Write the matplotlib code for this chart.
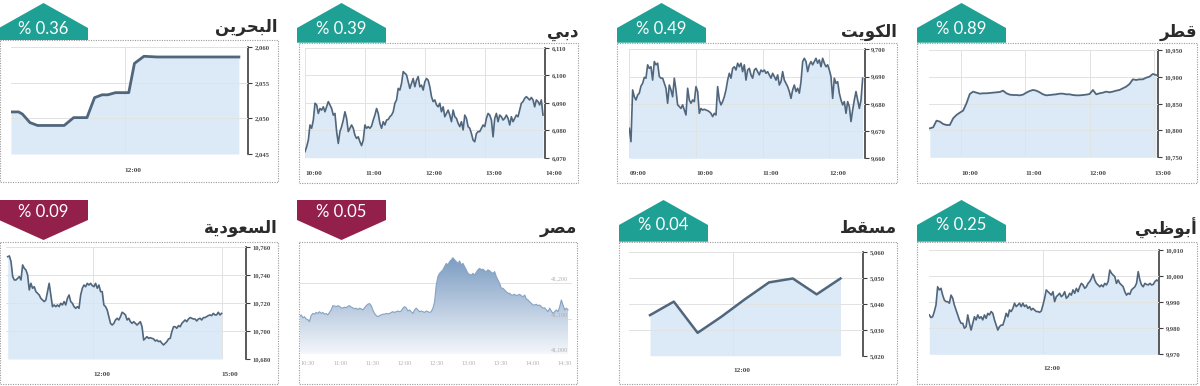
import numpy as np
import matplotlib
matplotlib.use('Agg')
import matplotlib.pyplot as plt
from matplotlib.patches import Polygon, Rectangle
from matplotlib.colors import LinearSegmentedColormap

W, H = 1200, 386

# ---------------- data ----------------
titles = ['البحرين', 'دبي', 'الكويت', 'قطر', 'السعودية', 'مصر', 'مسقط', 'أبوظبي']
changes = ['% 0.36', '% 0.39', '% 0.49', '% 0.89', '% 0.09', '% 0.05', '% 0.04', '% 0.25']
rising = [True, True, True, True, False, False, True, True]

bahrain_times = ['11:00', '11:04', '11:06', '11:10', '11:14', '11:28', '11:33', '11:40', '11:44',
                 '11:48', '11:51', '11:55', '12:02', '12:05', '12:10', '12:17', '13:00']
bahrain_values = [2050.9, 2050.9, 2050.6, 2049.4, 2049.0, 2049.0, 2050.1, 2050.1, 2052.9,
                  2053.3, 2053.3, 2053.6, 2053.6, 2057.7, 2058.7, 2058.6, 2058.6]
bahrain_yticks = [2045, 2050, 2055, 2060]
bahrain_xticks = ['12:00']

dubai_start, dubai_end = '10:00', '13:58'
dubai_values = [
    6072.2, 6074.0, 6076.4, 6081.9, 6080.7, 6083.7, 6089.8, 6089.2, 6086.1, 6087.9,
    6087.3, 6088.5, 6086.7, 6088.5, 6090.4, 6089.2, 6087.9, 6085.5, 6086.1, 6079.5,
    6075.2, 6079.5, 6081.3, 6083.7, 6086.7, 6084.3, 6079.5, 6080.7, 6081.9, 6080.7,
    6078.2, 6077.0, 6077.6, 6075.8, 6074.4, 6076.4, 6081.9, 6080.7, 6081.3, 6080.7,
    6081.5, 6083.7, 6085.5, 6087.9, 6086.1, 6082.5, 6080.7, 6083.1, 6081.9, 6083.7,
    6083.9, 6084.9, 6085.5, 6086.7, 6089.8, 6091.0, 6095.2, 6094.6, 6097.0, 6101.3,
    6100.7, 6100.1, 6097.6, 6095.2, 6097.0, 6098.8, 6095.8, 6098.2, 6099.5, 6095.8,
    6096.4, 6094.6, 6097.6, 6098.8, 6098.2, 6095.8, 6092.2, 6090.4, 6091.0, 6089.2,
    6088.5, 6089.8, 6086.7, 6088.5, 6084.9, 6086.1, 6087.3, 6085.5, 6083.1, 6087.3,
    6084.9, 6084.3, 6082.5, 6081.3, 6083.1, 6080.1, 6085.5, 6084.3, 6081.3, 6080.7,
    6078.8, 6076.4, 6075.8, 6078.8, 6079.5, 6079.5, 6080.7, 6081.9, 6081.3, 6084.3,
    6086.1, 6085.5, 6083.7, 6077.6, 6084.3, 6086.1, 6083.1, 6085.5, 6084.9, 6083.7,
    6084.3, 6085.5, 6084.3, 6081.9, 6084.9, 6083.1, 6084.3, 6085.5, 6084.9, 6087.3,
    6089.8, 6090.4, 6091.6, 6092.2, 6091.6, 6091.0, 6091.9, 6091.0, 6088.5, 6091.0,
    6090.4, 6089.2, 6091.0, 6085.5]
dubai_yticks = [6070, 6080, 6090, 6100, 6110]
dubai_xticks = ['10:00', '11:00', '12:00', '13:00', '14:00']

kuwait_start, kuwait_end = '09:00', '12:30'
kuwait_values = [
    9671.0, 9666.1, 9685.1, 9682.6, 9681.4, 9683.2, 9683.9, 9686.5, 9687.5, 9689.7,
    9689.4, 9694.3, 9693.0, 9693.6, 9688.7, 9695.5, 9694.3, 9694.9, 9690.0, 9689.4,
    9689.4, 9687.5, 9685.7, 9680.2, 9686.9, 9685.1, 9682.6, 9689.4, 9685.1, 9679.6,
    9679.0, 9678.3, 9679.6, 9677.7, 9675.9, 9685.7, 9681.4, 9680.2, 9681.4, 9680.8,
    9686.3, 9684.5, 9676.5, 9678.3, 9677.7, 9678.0, 9677.7, 9677.5, 9677.1, 9676.5,
    9675.3, 9676.5, 9675.9, 9686.3, 9681.4, 9679.6, 9680.8, 9682.6, 9685.1, 9688.7,
    9691.2, 9689.4, 9693.0, 9693.6, 9692.4, 9694.9, 9693.6, 9694.9, 9691.8, 9694.3,
    9688.7, 9692.4, 9693.0, 9690.6, 9689.4, 9692.4, 9693.0, 9691.8, 9690.6, 9692.4,
    9691.8, 9692.4, 9691.2, 9691.8, 9690.6, 9689.4, 9691.2, 9690.0, 9688.7, 9690.6,
    9686.9, 9688.1, 9691.8, 9688.7, 9687.5, 9686.3, 9684.5, 9682.0, 9685.1, 9686.9,
    9684.5, 9685.7, 9683.9, 9688.1, 9695.5, 9696.7, 9695.5, 9691.8, 9694.3, 9695.5,
    9694.3, 9695.5, 9696.7, 9694.9, 9696.1, 9693.6, 9696.7, 9694.9, 9693.6, 9694.3,
    9692.4, 9690.0, 9682.0, 9689.4, 9687.5, 9688.1, 9683.9, 9681.4, 9679.6, 9680.8,
    9676.5, 9680.8, 9679.0, 9673.5, 9677.7, 9681.4, 9684.5, 9681.4, 9678.3, 9681.4,
    9689.4]
kuwait_yticks = [9660, 9670, 9680, 9690, 9700]
kuwait_xticks = ['09:00', '10:00', '11:00', '12:00']

qatar_start, qatar_end = '09:31', '13:02'
qatar_values = [
    10804.0, 10805.9, 10818.3, 10816.5, 10812.1, 10810.2, 10810.2, 10822.7, 10828.9, 10833.2,
    10837.0, 10850.6, 10868.0, 10872.4, 10870.5, 10868.6, 10869.3, 10869.3, 10869.9, 10870.5,
    10871.1, 10871.7, 10874.2, 10869.3, 10866.8, 10866.1, 10866.1, 10865.5, 10866.8, 10870.5,
    10873.6, 10875.5, 10874.2, 10871.1, 10867.4, 10865.5, 10866.1, 10866.8, 10867.4, 10868.6,
    10868.6, 10867.4, 10867.4, 10866.1, 10865.5, 10865.5, 10866.1, 10866.8, 10868.0, 10875.5,
    10867.4, 10869.3, 10870.5, 10872.4, 10871.1, 10872.4, 10874.2, 10875.5, 10878.6, 10881.7,
    10886.6, 10895.3, 10894.1, 10895.3, 10895.3, 10898.4, 10900.3, 10905.3, 10903.4]
qatar_yticks = [10750, 10800, 10850, 10900, 10950]
qatar_xticks = ['10:00', '11:00', '12:00', '13:00']

saudi_start, saudi_end = '10:00', '15:00'
saudi_values = [
    10752.9, 10753.4, 10749.4, 10738.7, 10736.3, 10736.3, 10737.5, 10738.7, 10736.3, 10747.0,
    10744.6, 10743.4, 10739.9, 10729.2, 10733.9, 10730.4, 10731.5, 10728.0, 10726.8, 10725.6,
    10723.2, 10722.0, 10720.9, 10722.0, 10728.0, 10733.9, 10725.6, 10717.3, 10718.5, 10717.3,
    10718.5, 10717.3, 10719.7, 10718.5, 10720.9, 10718.5, 10723.2, 10725.6, 10720.9, 10719.7,
    10717.3, 10716.1, 10717.3, 10716.1, 10725.6, 10730.4, 10732.7, 10731.5, 10733.9, 10732.7,
    10733.9, 10732.3, 10731.5, 10733.9, 10730.4, 10732.7, 10728.0, 10728.0, 10718.5, 10717.3,
    10714.9, 10710.2, 10705.4, 10704.2, 10705.4, 10707.8, 10709.0, 10707.8, 10710.2, 10713.3,
    10712.5, 10711.4, 10707.8, 10709.0, 10706.6, 10705.4, 10706.6, 10705.4, 10704.2, 10705.4,
    10706.6, 10703.0, 10693.5, 10694.7, 10695.9, 10694.7, 10695.2, 10694.7, 10694.3, 10692.8,
    10693.5, 10692.4, 10692.8, 10691.2, 10690.0, 10691.2, 10692.4, 10694.3, 10694.7, 10699.5,
    10703.0, 10703.0, 10701.9, 10703.8, 10703.0, 10705.4, 10706.6, 10707.8, 10706.6, 10708.5,
    10709.5, 10709.0, 10708.5, 10708.5, 10707.1, 10708.5, 10709.0, 10707.8, 10709.5, 10709.5,
    10710.2, 10710.9, 10711.4, 10710.9, 10712.5, 10711.4, 10711.4, 10713.3, 10711.4, 10712.5]
saudi_yticks = [10680, 10700, 10720, 10740, 10760]
saudi_xticks = ['12:00', '15:00']

egypt_start, egypt_end = '10:22', '14:33'
egypt_values = [
    41106, 41111, 41103, 41106, 41100, 41097, 41092, 41109, 41115, 41113,
    41118, 41115, 41120, 41115, 41118, 41113, 41115, 41111, 41118, 41125,
    41137, 41136, 41134, 41137, 41135, 41131, 41130, 41133, 41131, 41135,
    41137, 41133, 41131, 41128, 41130, 41126, 41130, 41128, 41125, 41131,
    41137, 41141, 41143, 41137, 41125, 41115, 41109, 41106, 41109, 41111,
    41113, 41113, 41115, 41114, 41115, 41118, 41120, 41118, 41120, 41122,
    41120, 41122, 41130, 41134, 41131, 41122, 41125, 41120, 41115, 41125,
    41130, 41125, 41120, 41122, 41120, 41118, 41122, 41120, 41118, 41120,
    41130, 41148, 41195, 41219, 41228, 41233, 41238, 41247, 41256, 41252,
    41261, 41266, 41272, 41266, 41261, 41256, 41263, 41252, 41256, 41247,
    41238, 41228, 41225, 41223, 41228, 41223, 41231, 41238, 41242, 41238,
    41240, 41235, 41233, 41238, 41235, 41231, 41228, 41233, 41219, 41209,
    41200, 41186, 41186, 41181, 41176, 41172, 41172, 41167, 41167, 41169,
    41165, 41167, 41169, 41165, 41162, 41167, 41156, 41153, 41148, 41144,
    41139, 41139, 41141, 41137, 41139, 41134, 41130, 41131, 41125, 41120,
    41130, 41122, 41115, 41120, 41125, 41120, 41134, 41153, 41139, 41125,
    41130, 41125]
egypt_yticks = [41000, 41100, 41200]
egypt_top = 41300
egypt_xticks = ['10:30', '11:00', '11:30', '12:00', '12:30', '13:00', '13:30', '14:00', '14:30']

muscat_times = ['10:15', '10:45', '11:15', '11:45', '12:15', '12:45', '13:15', '13:45', '14:15']
muscat_values = [5035.6, 5040.8, 5028.8, 5035.0, 5041.8, 5048.2, 5049.7, 5043.6, 5049.7]
muscat_yticks = [5020, 5030, 5040, 5050, 5060]
muscat_xticks = ['12:00']

abudhabi_start, abudhabi_end = '10:00', '14:01'
abudhabi_values = [
    9985.1, 9984.1, 9984.4, 9986.4, 9988.9, 9995.9, 9994.7, 9995.3, 9992.7, 9990.8,
    9990.2, 9990.2, 9989.6, 9992.7, 9991.5, 9988.9, 9987.0, 9985.1, 9983.2, 9981.9,
    9981.9, 9980.0, 9980.6, 9985.1, 9981.9, 9979.3, 9981.9, 9984.4, 9983.2, 9985.1,
    9983.8, 9984.4, 9983.2, 9985.1, 9983.8, 9985.7, 9985.1, 9986.4, 9985.7, 9983.2,
    9981.2, 9979.3, 9980.6, 9981.2, 9981.2, 9983.2, 9985.7, 9984.4, 9987.0, 9986.4,
    9987.6, 9989.6, 9988.3, 9988.9, 9989.6, 9988.3, 9989.6, 9988.3, 9988.9, 9987.6,
    9988.3, 9987.0, 9987.6, 9987.0, 9986.4, 9986.4, 9986.1, 9986.6, 9988.9, 9991.5,
    9994.7, 9994.0, 9993.4, 9992.7, 9994.0, 9990.2, 9992.1, 9992.7, 9993.4, 9992.1,
    9992.7, 9994.0, 9991.5, 9992.1, 9993.4, 9992.7, 9994.7, 9993.4, 9995.3, 9994.0,
    9995.9, 9997.2, 9996.6, 9995.3, 9995.9, 9997.2, 9997.9, 9999.1, 10000.7, 9998.5,
    9997.2, 9996.6, 9995.9, 9996.6, 9995.9, 9997.2, 9996.6, 9997.9, 10002.3, 10001.1,
    10000.4, 9999.8, 9997.2, 9998.5, 9997.2, 9996.6, 9995.9, 9994.0, 9992.7, 9993.4,
    9993.0, 9994.7, 9995.3, 9995.9, 9997.2, 10001.7, 9998.5, 9996.6, 9995.9, 9997.2,
    9996.8, 9996.6, 9997.2, 9996.6, 9996.8, 9997.9, 9998.5, 9998.1]
abudhabi_yticks = [9970, 9980, 9990, 10000, 10010]
abudhabi_xticks = ['12:00']


def hrs(s):
    h, m = s.split(':')
    return int(h) + int(m) / 60


# matplotlib does no Arabic shaping: map letters to presentation forms
# (isolated, final, initial, medial) and lay them out right to left
AR_FORMS = {
    'ا': ('\uFE8D', '\uFE8E', None, None), 'أ': ('\uFE83', '\uFE84', None, None),
    'ب': ('\uFE8F', '\uFE90', '\uFE91', '\uFE92'), 'ت': ('\uFE95', '\uFE96', '\uFE97', '\uFE98'),
    'ة': ('\uFE93', '\uFE94', None, None), 'ح': ('\uFEA1', '\uFEA2', '\uFEA3', '\uFEA4'),
    'د': ('\uFEA9', '\uFEAA', None, None), 'ر': ('\uFEAD', '\uFEAE', None, None),
    'س': ('\uFEB1', '\uFEB2', '\uFEB3', '\uFEB4'), 'ص': ('\uFEB9', '\uFEBA', '\uFEBB', '\uFEBC'),
    'ط': ('\uFEC1', '\uFEC2', '\uFEC3', '\uFEC4'), 'ظ': ('\uFEC5', '\uFEC6', '\uFEC7', '\uFEC8'),
    'ع': ('\uFEC9', '\uFECA', '\uFECB', '\uFECC'), 'ق': ('\uFED5', '\uFED6', '\uFED7', '\uFED8'),
    'ك': ('\uFED9', '\uFEDA', '\uFEDB', '\uFEDC'), 'ل': ('\uFEDD', '\uFEDE', '\uFEDF', '\uFEE0'),
    'م': ('\uFEE1', '\uFEE2', '\uFEE3', '\uFEE4'), 'ن': ('\uFEE5', '\uFEE6', '\uFEE7', '\uFEE8'),
    'و': ('\uFEED', '\uFEEE', None, None), 'ي': ('\uFEF1', '\uFEF2', '\uFEF3', '\uFEF4'),
}


def shape_ar(word):
    out = []
    for i, ch in enumerate(word):
        iso, fin, ini, med = AR_FORMS[ch]
        joins_prev = i > 0 and AR_FORMS[word[i - 1]][2] is not None
        joins_next = i < len(word) - 1 and ini is not None
        if joins_prev and joins_next:
            out.append(med)
        elif joins_prev:
            out.append(fin)
        elif joins_next:
            out.append(ini)
        else:
            out.append(iso)
    return ''.join(reversed(out))


series = [
    ([hrs(s) for s in bahrain_times], bahrain_values, bahrain_yticks, bahrain_xticks),
    (np.linspace(hrs(dubai_start), hrs(dubai_end), len(dubai_values)), dubai_values, dubai_yticks, dubai_xticks),
    (np.linspace(hrs(kuwait_start), hrs(kuwait_end), len(kuwait_values)), kuwait_values, kuwait_yticks, kuwait_xticks),
    (np.linspace(hrs(qatar_start), hrs(qatar_end), len(qatar_values)), qatar_values, qatar_yticks, qatar_xticks),
    (np.linspace(hrs(saudi_start), hrs(saudi_end), len(saudi_values)), saudi_values, saudi_yticks, saudi_xticks),
    (np.linspace(hrs(egypt_start), hrs(egypt_end), len(egypt_values)), egypt_values, egypt_yticks, egypt_xticks),
    ([hrs(s) for s in muscat_times], muscat_values, muscat_yticks, muscat_xticks),
    (np.linspace(hrs(abudhabi_start), hrs(abudhabi_end), len(abudhabi_values)), abudhabi_values, abudhabi_yticks, abudhabi_xticks),
]

# ---------------- layout (pixels) ----------------
boxes = [(0, 278, 40, 182), (298.5, 578, 42.7, 183), (617, 897, 42.7, 183), (917, 1197, 42.7, 183),
         (0, 278, 241.7, 384), (298.5, 577, 241.7, 384), (619, 897, 241.7, 384), (917, 1197, 241.7, 384)]
plots = [(11, 248, 47, 154), (305, 545, 47.7, 157.7), (629.3, 865, 49.3, 158.3), (929.3, 1158.3, 50, 157.3),
         (6, 246, 246.7, 359), (300, 572, 247.8, 354.3), (629.3, 863.3, 251.7, 355.7), (929.3, 1159.3, 250, 354.3)]
xlims = [(11.0, 13.08), (10.0, 14.0), (9.0, 12.535), (9.508, 13.067),
         (9.96, 15.57), (10.375, 14.612), (9.815, 14.73), (10.0, 14.035)]
badge_lefts = [-1, 297, 617, 917, -1, 297, 619, 917]
title_ys = [27.3, 31.7, 31.7, 31.7, 228.3, 228.3, 228.3, 228.3]
xlab_dy = [16, 15.6, 15, 16, 16, 9, 15.3, 14.7]
line_ws = [2.0, 1.2, 1.2, 1.3, 1.2, 0.8, 1.8, 1.2]

TEAL, MAROON = '#1fa094', '#93204a'
FILL, LINE = '#dce9f6', '#50667d'
SPINE, TICKC = '#3d3d3d', '#4a4a4a'

fig = plt.figure(figsize=(W / 100, H / 100), dpi=100)
fig.patch.set_facecolor('white')
ov = fig.add_axes([0, 0, 1, 1])
ov.set_xlim(0, W)
ov.set_ylim(H, 0)
ov.axis('off')


def px_axes(l, r, t, b):
    return fig.add_axes([l / W, 1 - b / H, (r - l) / W, (b - t) / H])


for i in range(8):
    bl, br, bt, bb = boxes[i]
    ov.add_patch(Rectangle((bl, bt), br - bl, bb - bt, fill=False, ec='#9a9a9a', lw=0.8, ls=(0, (1, 1.2))))

    # badge
    left = badge_lefts[i]
    bw = 89
    cx = left + bw / 2
    top = 3 if i < 4 else 200
    if rising[i]:
        pts = [(left, bt), (left, top + 25), (cx, top), (left + bw, top + 25), (left + bw, bt)]
        ty = top + 25.5
        col = TEAL
    else:
        pts = [(left, top), (left + bw, top), (left + bw, top + 20), (cx, top + 40), (left, top + 20)]
        ty = top + 12
        col = MAROON
    ov.add_patch(Polygon(pts, closed=True, fc=col, ec='none'))
    ov.text(cx, ty, changes[i], color='white', ha='center', va='center', fontsize=12, family='Lato')

    # title
    ov.text(br, title_ys[i], shape_ar(titles[i]), ha='right', va='center', fontsize=12,
            fontweight='bold', family='DejaVu Sans', color='#2b2b2b')

    # chart
    t, v, yt, xt = series[i]
    ax = px_axes(*plots[i])
    ax.patch.set_visible(False)
    for s in ax.spines.values():
        s.set_visible(False)
    xt_pos = [hrs(s) for s in xt]

    if i == 5:
        ax.set_axisbelow(True)
        poly = ax.fill_between(t, v, yt[0], color='none', lw=0)
        grad = np.linspace(0, 1, 256).reshape(-1, 1)
        cmap = LinearSegmentedColormap.from_list('egx', ['#f4f7fb', '#7b9cc2'])
        im = ax.imshow(grad, extent=[xlims[i][0], xlims[i][1], yt[0], max(v)], origin='lower',
                       aspect='auto', cmap=cmap, zorder=1)
        im.set_clip_path(poly.get_paths()[0], transform=ax.transData)
        ax.plot(t, v, color='#86a3c2', lw=line_ws[i], zorder=2)
        ax.set_xlim(*xlims[i])
        ax.set_ylim(yt[0], egypt_top)
        ax.set_yticks(yt)
        ax.yaxis.grid(True, color='#e2e2e2', lw=0.7)
        ax.tick_params(axis='y', left=False, labelleft=False)
        for y in yt:
            ax.annotate(f'{y:,}', xy=(0.985, y), xycoords=('axes fraction', 'data'),
                        xytext=(0, 1.2), textcoords='offset points', ha='right', va='bottom',
                        fontsize=4.5, color='#b0b0b0', family='Liberation Serif')
        ax.set_xticks(xt_pos, xt)
        ax.tick_params(axis='x', length=0, labelsize=4.5, labelcolor='#b0b0b0', pad=xlab_dy[i] * 0.72)
        plt.setp(ax.get_xticklabels(), va='center', family='Liberation Serif')
        continue

    ax.fill_between(t, v, yt[0], color=FILL, lw=0, zorder=1)
    ax.plot(t, v, color=LINE, lw=line_ws[i], zorder=3, solid_joinstyle='round')
    ax.set_xlim(*xlims[i])
    ax.set_ylim(yt[0], yt[-1])
    ax.set_axisbelow(False)
    ax.grid(True, color='#e2e2e2', lw=0.7, zorder=2)
    ax.spines['right'].set_visible(True)
    ax.spines['right'].set_color(SPINE)
    ax.spines['right'].set_linewidth(1.2)
    ax.yaxis.tick_right()
    ax.set_yticks(yt, [f'{y:,}' for y in yt])
    ax.tick_params(axis='y', direction='out', length=3, width=0.8, color=SPINE,
                   labelcolor=TICKC, labelsize=4.8, pad=1.5)
    plt.setp(ax.get_yticklabels(), family='Liberation Serif', fontweight='bold')
    ax.set_xticks(xt_pos, xt)
    ax.tick_params(axis='x', length=0, labelsize=5.2, labelcolor=TICKC, pad=xlab_dy[i] * 0.72)
    plt.setp(ax.get_xticklabels(), ha='left', va='center', family='Liberation Serif', fontweight='bold')

fig.savefig('out.png', dpi=100, facecolor='white')
